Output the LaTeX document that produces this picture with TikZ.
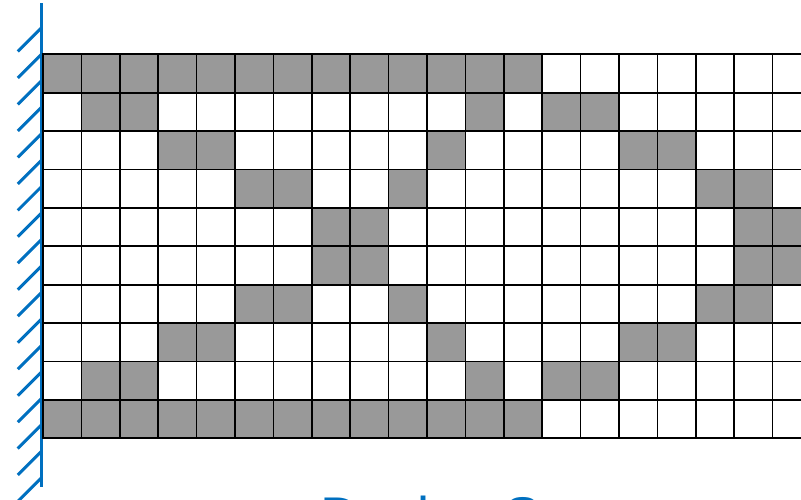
\documentclass[tikz,border=0pt]{standalone}
\usepackage{fontspec}
\setmainfont{Liberation Sans}
\definecolor{wallblue}{HTML}{0070C0}
\definecolor{cellgray}{HTML}{999999}
\begin{document}
\begin{tikzpicture}[x=1pt,y=-1pt,
  gridline/.style={black,line width=1.7pt,line cap=rect},
  wallline/.style={wallblue,line width=3.2pt},
  hatchline/.style={wallblue,line width=3pt},
  solidcell/.style={fill=cellgray}]
\useasboundingbox (0,0) rectangle (801,499);
\clip (0,0) rectangle (801,499);
\fill[white] (0,0) rectangle (801,499);
\def\cs{38.4}
\def\gx{43}
\def\gy{54.3}
% solid cells
\foreach \r/\cols in {0/{0,1,2,3,4,5,6,7,8,9,10,11,12},
                      1/{1,2,11,13,14},
                      2/{3,4,10,15,16},
                      3/{5,6,9,17,18},
                      4/{7,8,18,19},
                      5/{7,8,18,19},
                      6/{5,6,9,17,18},
                      7/{3,4,10,15,16},
                      8/{1,2,11,13,14},
                      9/{0,1,2,3,4,5,6,7,8,9,10,11,12}}{
  \foreach \c in \cols {
    \path[solidcell] ({\gx+\c*\cs},{\gy+\r*\cs}) rectangle ++(\cs,\cs);
  }
}
% wall
\coordinate (walltop) at (41.3,3);
\coordinate (wallbot) at (41.3,487);
\draw[wallline] (walltop) -- (wallbot);
\foreach \k in {0,...,17}{
  \coordinate (h\k) at (41.3,{28+26.47*\k});
  \draw[hatchline] (h\k) -- ++(-23.5,23.5);
}
% grid
\foreach \r in {0,...,10}{
  \draw[gridline] (\gx,{\gy+\r*\cs}) -- (830,{\gy+\r*\cs});
}
\foreach \c in {0,...,20}{
  \draw[gridline] ({\gx+\c*\cs},\gy) -- ({\gx+\c*\cs},{\gy+10*\cs});
}
\node[anchor=base west, inner sep=0pt, text=wallblue,
      font=\fontsize{54.5}{60}\selectfont] (title) at (320,535.5) {Design Space};
\end{tikzpicture}
\end{document}
